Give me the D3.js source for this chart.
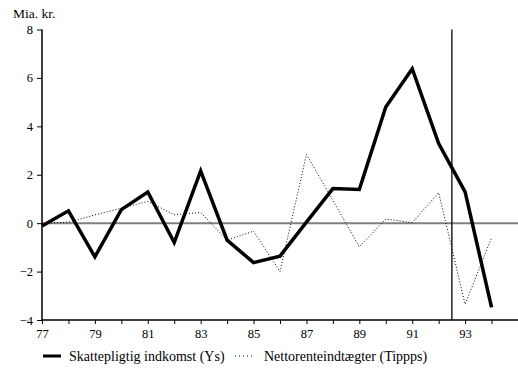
<!DOCTYPE html>
<html>
<head>
<meta charset="utf-8">
<script src="https://cdn.jsdelivr.net/npm/d3@7"></script>
<style>
  html, body { margin: 0; padding: 0; background: #fff; }
  svg { display: block; }
  svg text { font-family: "Liberation Serif", "Times New Roman", serif !important; fill: #000; }
</style>
</head>
<body>
<svg id="chart" width="518" height="369"></svg>
<script>
// Years 1977-1994 (two-digit labels)
const years = [77, 78, 79, 80, 81, 82, 83, 84, 85, 86, 87, 88, 89, 90, 91, 92, 93, 94];
// Skattepligtig indkomst (Ys), mia. kr.
const ysValues = [-0.12, 0.51, -1.39, 0.56, 1.29, -0.8, 2.16, -0.7, -1.63, -1.36, 0.04, 1.43, 1.39, 4.8, 6.38, 3.29, 1.29, -3.48];
// Nettorenteindtægter (Tippps), mia. kr.
const tipppsValues = [0.0, 0.04, 0.34, 0.62, 0.9, 0.35, 0.44, -0.7, -0.33, -2.0, 2.84, 0.94, -0.98, 0.17, 0.02, 1.26, -3.35, -0.6];
const yTicks = [-4, -2, 0, 2, 4, 6, 8];
const xLabelYears = [77, 79, 81, 83, 85, 87, 89, 91, 93];
const markerYear = 92.5;
const seriesNames = ["Skattepligtig indkomst (Ys)", "Nettorenteindtægter (Tippps)"];

const serif = '"Liberation Serif", "Times New Roman", serif';
const svg = d3.select("#chart");
const x = d3.scaleLinear().domain([77, 95]).range([42, 518]);
const y = d3.scaleLinear().domain([-4, 8]).range([320, 29.5]);

// zero reference line
svg.append("line")
  .attr("x1", x(77)).attr("x2", x(95))
  .attr("y1", y(0)).attr("y2", y(0))
  .attr("stroke", "#808080").attr("stroke-width", 2);

// vertical marker line
svg.append("line")
  .attr("x1", x(markerYear)).attr("x2", x(markerYear))
  .attr("y1", y(8)).attr("y2", y(-4))
  .attr("stroke", "#000").attr("stroke-width", 1.3);

// y axis
const yAxis = svg.append("g")
  .attr("transform", `translate(${x(77)},0)`)
  .call(d3.axisLeft(y).tickValues(yTicks).tickSize(5).tickPadding(4).tickFormat(d3.format("d")))
  .attr("font-family", serif).attr("font-size", 12.5);
yAxis.select(".domain").attr("stroke-width", 1.5).attr("d", `M0,${y(8)}V${y(-4)}`);
yAxis.selectAll(".tick line").attr("stroke-width", 1);

// x axis
const xAxis = svg.append("g")
  .attr("transform", `translate(0,${y(-4)})`)
  .call(d3.axisBottom(x).tickValues(years).tickSize(4).tickPadding(5)
    .tickFormat(d => xLabelYears.includes(d) ? d : ""))
  .attr("font-family", serif).attr("font-size", 12.5);
xAxis.select(".domain").attr("stroke-width", 1.5).attr("d", `M${x(77)},0H${x(95)}`);
xAxis.selectAll(".tick line").attr("stroke-width", 1);

// unit label
svg.append("text").attr("x", 13).attr("y", 18)
  .attr("font-size", 13.5).text("Mia. kr.");

const line = d3.line().x((d, i) => x(years[i])).y(d => y(d));

svg.append("path").datum(tipppsValues)
  .attr("d", line).attr("fill", "none")
  .attr("stroke", "#000").attr("stroke-width", 1)
  .attr("stroke-dasharray", "1,2");

svg.append("path").datum(ysValues)
  .attr("d", line).attr("fill", "none")
  .attr("stroke", "#000").attr("stroke-width", 3.5)
  .attr("stroke-linejoin", "miter");

// legend
const legend = svg.append("g").attr("font-size", 14);
legend.append("line").attr("x1", 43).attr("x2", 61).attr("y1", 356).attr("y2", 356)
  .attr("stroke", "#000").attr("stroke-width", 3);
legend.append("text").attr("x", 69).attr("y", 361).text(seriesNames[0]);
legend.append("line").attr("x1", 235).attr("x2", 255).attr("y1", 356).attr("y2", 356)
  .attr("stroke", "#000").attr("stroke-width", 1).attr("stroke-dasharray", "1,3");
legend.append("text").attr("x", 264).attr("y", 361).text(seriesNames[1]);
</script>
</body>
</html>
